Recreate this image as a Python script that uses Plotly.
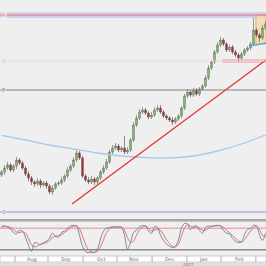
import plotly.graph_objects as go

# ---------------- data ----------------
opens = [102.5,102.8,103.2,103.5,103.0,103.4,104.0,103.7,103.2,102.6,102.2,101.8,101.6,101.9,101.5,101.7,101.4,100.8,101.2,101.6,
         101.7,102.0,102.4,103.0,103.4,104.0,104.7,104.2,102.4,102.0,101.8,102.1,101.8,102.2,102.8,103.2,103.8,104.8,105.2,105.4,
         105.0,105.2,104.8,105.0,106.0,107.5,108.2,108.8,109.0,108.7,108.3,108.5,109.0,109.2,108.8,108.4,108.2,108.0,107.8,108.1,
         108.4,109.2,110.4,110.8,110.5,111.0,110.6,111.1,111.4,112.2,113.2,113.8,114.8,115.5,116.0,115.6,115.0,115.3,114.8,114.5,
         114.2,114.6,115.0,115.2,115.6,117.0,116.5,116.2,117.2]
closes = [102.8,103.2,103.5,103.0,103.4,104.0,103.7,103.2,102.6,102.2,101.8,101.6,101.9,101.5,101.7,101.4,100.8,101.2,101.6,101.7,
          102.0,102.4,103.0,103.4,104.0,104.7,104.2,102.4,102.0,101.8,102.1,101.8,102.2,102.8,103.2,103.8,104.8,105.2,105.4,105.0,
          105.2,104.8,105.0,106.0,107.5,108.2,108.8,109.0,108.7,108.3,108.5,109.0,109.2,108.8,108.4,108.2,108.0,107.8,108.1,108.4,
          109.2,110.4,110.8,110.5,111.0,110.6,111.1,111.4,112.2,113.2,113.8,114.8,115.5,116.0,115.6,115.0,115.3,114.8,114.5,114.2,
          114.6,115.0,115.2,115.6,117.0,116.5,116.2,117.2,117.6]
highs = [103.0,103.5,103.8,103.7,103.6,104.3,104.2,103.9,103.4,102.9,102.4,102.0,102.2,102.1,101.9,101.9,101.6,101.5,101.8,101.9,
         102.3,102.6,103.3,103.6,104.3,105.0,104.9,104.4,102.6,102.3,102.4,102.3,102.4,103.0,103.5,104.1,105.0,105.5,105.7,105.6,
         105.4,106.4,105.3,106.2,107.8,108.5,109.1,109.3,109.2,108.9,108.8,109.3,109.5,109.5,109.0,108.6,108.4,108.3,108.3,108.6,
         109.4,110.6,111.1,111.0,111.2,111.2,111.3,111.6,112.5,113.5,114.0,115.0,115.8,116.3,116.2,115.8,115.5,115.5,115.0,114.7,
         114.8,115.2,115.4,115.8,118.2,117.2,116.7,117.5,117.9]
lows = [102.3,102.5,103.0,102.8,102.8,103.1,103.5,103.0,102.4,101.9,101.5,101.3,101.4,101.2,101.3,101.1,100.6,100.5,101.0,101.4,
        101.5,101.8,102.2,102.8,103.2,103.8,104.0,102.2,101.8,101.6,101.6,101.5,101.6,102.0,102.6,103.0,103.6,104.6,105.0,104.8,
        104.8,104.6,104.6,104.8,105.8,107.3,108.0,108.6,108.5,108.1,108.1,108.3,108.8,108.6,108.2,108.0,107.8,107.5,107.6,107.9,
        108.2,109.0,110.2,110.3,110.3,110.4,110.4,110.9,111.2,112.0,113.0,113.6,114.6,115.3,115.4,114.8,114.8,114.6,114.3,113.8,
        114.0,114.4,114.8,115.0,115.4,116.3,115.8,116.0,117.0]
idx = list(range(len(closes)))

ma_idx = [0, 8, 16, 24, 32, 40, 48, 56, 64, 72, 80, 88]
ma_vals = [106.47, 106.0, 105.5, 105.1, 104.7, 104.4, 104.25, 104.2, 104.4, 104.9, 105.6, 106.5]

stoch_k = [85,87,82,78,68,64,74,72,55,32,16,40,38,34,40,44,52,66,58,55,
           68,72,80,86,88,86,60,30,15,12,14,12,22,50,72,80,82,84,83,84,
           82,60,22,40,68,74,84,87,86,72,66,84,82,60,46,36,30,26,30,48,
           80,93,92,76,84,86,74,66,82,86,85,87,88,86,74,66,64,52,44,40,
           42,62,76,80,88,86,62,46,66]
stoch_d = [82,84,85,82,76,70,68,70,66,52,34,28,30,36,37,40,45,54,58,60,
           62,68,74,80,85,86,78,58,36,20,14,13,16,28,48,68,78,82,83,83,
           83,74,54,40,44,60,75,82,86,80,72,74,78,74,62,48,38,30,28,36,
           58,80,90,86,82,84,80,74,74,80,85,86,87,87,82,74,68,60,52,45,
           42,48,60,72,82,86,76,60,56]

# levels and drawings (price units)
res_level = 118.5
res_band = [118.2, 118.8]
pink_level = 113.9
gray_level = 111.0
blue_level = 98.8
pink_zone = [113.7, 114.1]
pink_zone_x = [73.7, 88.2]
box_x = [84.8, 88.2]
box_y = [115.6, 118.5]
blue_seg_x = [82.8, 88.2]
blue_seg_y = [115.4, 115.7]
trend_x = [23.5, 88.17]
trend_y = [99.6, 114.0]
stoch_hi, stoch_lo = 80, 20

month_labels = ["Aug", "Sep", "Oct", "Nov", "Dec", "Jan", "Feb"]
month_pos = [10.2, 21.2, 33.2, 44.2, 56.2, 67.5, 79.2]
divider_pos = [4.5, 15.5, 27.2, 38.5, 50.2, 61.8, 73.2, 84.8]
year_label = "2017"
year_pos = 62.2
level_tags = ["R", "%", "P", "S"]

# ---------------- figure ----------------
XR = [-0.5, 88.17]
main_dom = [1 - 219 / 266, 1]
st_dom = [1 - 257 / 266, 1 - 221 / 266]

fig = go.Figure()
fig.add_trace(go.Candlestick(
    x=idx, open=opens, high=highs, low=lows, close=closes,
    increasing=dict(fillcolor="#86c86a", line=dict(color="#6f7a6a", width=0.7)),
    decreasing=dict(fillcolor="#d01818", line=dict(color="#6a5a5a", width=0.7)),
    whiskerwidth=0, showlegend=False, hoverinfo="skip", xaxis="x", yaxis="y"))
fig.add_trace(go.Scatter(x=ma_idx, y=ma_vals, mode="lines", line=dict(color="#a9c9e6", width=1.3, shape="spline"),
                         showlegend=False, hoverinfo="skip", xaxis="x", yaxis="y"))
fig.add_trace(go.Scatter(x=trend_x, y=trend_y, mode="lines", line=dict(color="#e83030", width=1.3),
                         showlegend=False, hoverinfo="skip", xaxis="x", yaxis="y"))
fig.add_trace(go.Scatter(x=blue_seg_x, y=blue_seg_y, mode="lines", line=dict(color="#5aa8e0", width=1.3),
                         showlegend=False, hoverinfo="skip", xaxis="x", yaxis="y"))
# stochastic
fig.add_trace(go.Scatter(x=idx, y=stoch_d, mode="lines", line=dict(color="#e87070", width=1, shape="spline"),
                         showlegend=False, hoverinfo="skip", xaxis="x2", yaxis="y2"))
fig.add_trace(go.Scatter(x=idx, y=stoch_k, mode="lines", line=dict(color="#7888a8", width=1, shape="spline"),
                         showlegend=False, hoverinfo="skip", xaxis="x2", yaxis="y2"))

shapes = []
shapes.append(dict(type="rect", xref="paper", yref="y", x0=0, x1=1, y0=res_band[0], y1=res_band[1],
                   fillcolor="#cdd3ea", line=dict(width=0), layer="below"))
shapes.append(dict(type="line", xref="paper", yref="y", x0=0, x1=1, y0=res_level, y1=res_level,
                   line=dict(color="#e8707a", width=1)))
shapes.append(dict(type="line", xref="paper", yref="y", x0=0, x1=1, y0=pink_level, y1=pink_level,
                   line=dict(color="#ead6d6", width=1)))
shapes.append(dict(type="line", xref="paper", yref="y", x0=0, x1=1, y0=gray_level, y1=gray_level,
                   line=dict(color="#808080", width=1)))
shapes.append(dict(type="line", xref="paper", yref="y", x0=0, x1=1, y0=blue_level, y1=blue_level,
                   line=dict(color="#8c8cea", width=1)))
shapes.append(dict(type="rect", xref="x", yref="y", x0=pink_zone_x[0], x1=pink_zone_x[1], y0=pink_zone[0], y1=pink_zone[1],
                   fillcolor="rgba(240,150,150,0.55)", line=dict(width=0), layer="below"))
shapes.append(dict(type="rect", xref="x", yref="y", x0=box_x[0], x1=box_x[1], y0=box_y[0], y1=box_y[1],
                   fillcolor="rgba(245,215,170,0.75)", line=dict(color="#e0b070", width=1), layer="below"))
shapes.append(dict(type="rect", xref="paper", yref="paper", x0=0, x1=1, y0=1 - 221.5 / 266, y1=1 - 219 / 266,
                   fillcolor="#a8a8a8", line=dict(width=0)))
shapes.append(dict(type="line", xref="paper", yref="y2", x0=0, x1=1, y0=stoch_hi, y1=stoch_hi,
                   line=dict(color="#e89090", width=1), layer="below"))
shapes.append(dict(type="line", xref="paper", yref="y2", x0=0, x1=1, y0=stoch_lo, y1=stoch_lo,
                   line=dict(color="#8a8a8a", width=1.5), layer="below"))
shapes.append(dict(type="rect", xref="paper", yref="paper", x0=0, x1=1, y0=1 - 262 / 266, y1=1 - 256 / 266,
                   fillcolor="#ffffff", line=dict(color="#b0b0b0", width=0.6)))
shapes.append(dict(type="rect", xref="paper", yref="paper", x0=0, x1=1, y0=0, y1=1 - 262 / 266,
                   fillcolor="#dedede", line=dict(width=0)))
for d in divider_pos:
    shapes.append(dict(type="line", xref="x2", yref="paper", x0=d, x1=d, y0=1 - 262 / 266, y1=1 - 256 / 266,
                       line=dict(color="#a0a0a0", width=0.8)))

annotations = []
for lab, p in zip(month_labels, month_pos):
    annotations.append(dict(x=p, y=1 - 259 / 266, xref="x2", yref="paper", text=lab, showarrow=False,
                            font=dict(size=5, color="#707070", family="DejaVu Sans"), xanchor="center", yanchor="middle"))
annotations.append(dict(x=year_pos, y=1 - 264 / 266, xref="x2", yref="paper", text=year_label, showarrow=False,
                        font=dict(size=4, color="#707070", family="DejaVu Sans"), xanchor="center", yanchor="middle"))
for txt, lvl, col in zip(level_tags, [res_level, pink_level, gray_level, blue_level],
                         ["#e06070", "#d8b8b8", "#555555", "#7070e0"]):
    annotations.append(dict(x=0.004, y=lvl, xref="paper", yref="y", text=txt, showarrow=False,
                            font=dict(size=5, color=col, family="DejaVu Sans"), xanchor="left", yanchor="middle",
                            bgcolor="#efefef", borderpad=0))

fig.update_layout(
    width=266, height=266, margin=dict(l=0, r=0, t=0, b=0),
    paper_bgcolor="#efefef", plot_bgcolor="#efefef",
    showlegend=False, shapes=shapes, annotations=annotations, boxgap=0.2,
    xaxis=dict(domain=[0, 1], range=XR, visible=False, rangeslider=dict(visible=False), anchor="y"),
    yaxis=dict(domain=main_dom, range=[98.1, 120.0], visible=False, anchor="x"),
    xaxis2=dict(domain=[0, 1], range=XR, visible=False, anchor="y2", matches="x"),
    yaxis2=dict(domain=st_dom, range=[0, 100], visible=False, anchor="x2"),
)
fig.write_html("out.html")
